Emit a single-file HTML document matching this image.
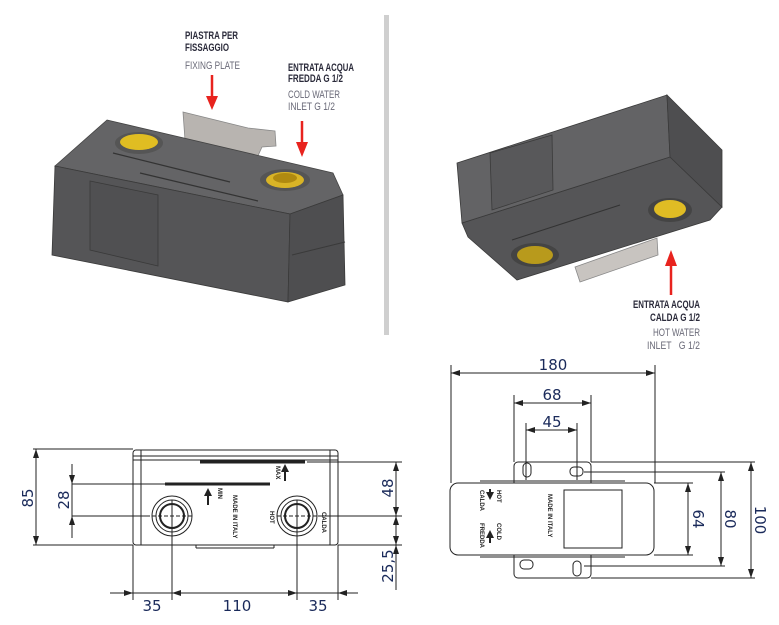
<!DOCTYPE html>
<html><head><meta charset="utf-8"><style>
html,body{margin:0;padding:0;background:#fff;}
svg{display:block;}
.lb{font-family:"Liberation Sans",sans-serif;font-size:11px;}
.dk{fill:#2a2a3a;font-weight:bold;}
.gr{fill:#6a6a78;}
.dim{font-family:"DejaVu Sans","Liberation Sans",sans-serif;font-size:15px;fill:#1a2a5a;}
</style></head><body>
<svg width="779" height="625" viewBox="0 0 779 625" xmlns="http://www.w3.org/2000/svg">
<rect width="779" height="625" fill="#fff"/>
<rect x="384" y="15" width="5" height="320" fill="#cfcfcf"/>

<!-- Left 3D box -->
<polygon points="183,112 248,128 275,131 276,146 262,147 256,160 185,140" fill="#b8b4b0" stroke="#888" stroke-width="0.8"/>
<polygon points="107,120 333,173 343,195 290,214 55,166" fill="#646466" stroke="#444" stroke-width="0.8"/>
<polygon points="55,166 290,214 288,302 52,255" fill="#555557" stroke="#3a3a3a" stroke-width="0.8"/>
<polygon points="290,214 343,195 345,285 288,302" fill="#4e4e50" stroke="#3a3a3a" stroke-width="0.8"/>
<line x1="292" y1="255" x2="345" y2="242" stroke="#3a3a3a"/>
<polygon points="90,181 158,195 158,266 90,250" fill="#505052" stroke="#3a3a3a" stroke-width="0.8"/>
<ellipse cx="139" cy="143" rx="24" ry="11" fill="#555"/>
<ellipse cx="139" cy="142" rx="19" ry="8" fill="#e0bd22"/>
<ellipse cx="285" cy="180" rx="25" ry="11" fill="#555"/>
<ellipse cx="285" cy="180" rx="19" ry="8" fill="#d9b426"/>
<ellipse cx="285" cy="178" rx="12" ry="5" fill="#b08a10"/>
<line x1="113" y1="153" x2="230" y2="182" stroke="#333" stroke-width="1.2"/>
<line x1="140" y1="173" x2="258" y2="201" stroke="#333" stroke-width="1.2"/>

<!-- Right 3D box -->
<polygon points="575,267 657,238 658,255 580,282" fill="#c8c4c0" stroke="#888" stroke-width="0.8"/>
<polygon points="462,223 670,157 722,207 710,220 517,280 468,237" fill="#555557" stroke="#3a3a3a" stroke-width="0.8"/>
<polygon points="457,163 667,95 670,157 462,223" fill="#636365" stroke="#3a3a3a" stroke-width="0.8"/>
<polygon points="667,95 722,150 722,207 670,157" fill="#4e4e50" stroke="#3a3a3a" stroke-width="0.8"/>
<polygon points="490,153 552,135 553,190 492,210" fill="#58585a" stroke="#3a3a3a" stroke-width="0.8"/>
<line x1="512" y1="240" x2="620" y2="205" stroke="#333"/>
<ellipse cx="535" cy="255" rx="24" ry="12" fill="#444"/>
<ellipse cx="535" cy="255" rx="18" ry="9" fill="#b89a1c"/>
<ellipse cx="670" cy="210" rx="22" ry="12" fill="#444"/>
<ellipse cx="670" cy="209" rx="16" ry="9" fill="#e0bc24"/>

<!-- Labels & arrows -->
<g class="lb">
<text x="185" y="39" class="dk" textLength="53" lengthAdjust="spacingAndGlyphs">PIASTRA PER</text>
<text x="185" y="51" class="dk" textLength="44" lengthAdjust="spacingAndGlyphs">FISSAGGIO</text>
<text x="185" y="69" class="gr" textLength="55" lengthAdjust="spacingAndGlyphs">FIXING PLATE</text>
<text x="288" y="71" class="dk" textLength="66" lengthAdjust="spacingAndGlyphs">ENTRATA ACQUA</text>
<text x="288" y="82" class="dk" textLength="55" lengthAdjust="spacingAndGlyphs">FREDDA G 1/2</text>
<text x="288" y="98" class="gr" textLength="52" lengthAdjust="spacingAndGlyphs">COLD WATER</text>
<text x="288" y="110" class="gr" textLength="47" lengthAdjust="spacingAndGlyphs">INLET G 1/2</text>
<text x="633" y="308" class="dk" textLength="67" lengthAdjust="spacingAndGlyphs">ENTRATA ACQUA</text>
<text x="650" y="321" class="dk" textLength="50" lengthAdjust="spacingAndGlyphs">CALDA G 1/2</text>
<text x="653" y="336" class="gr" textLength="47" lengthAdjust="spacingAndGlyphs">HOT WATER</text>
<text x="647" y="349" class="gr" textLength="53" lengthAdjust="spacingAndGlyphs">INLET&#160;&#160;&#160;G 1/2</text>
</g>
<g fill="#e8231e" stroke="#e8231e">
<line x1="212" y1="75" x2="212" y2="98" stroke-width="2.5"/><polygon points="206,96 218,96 212,110" stroke="none"/>
<line x1="302" y1="121" x2="302" y2="144" stroke-width="2.5"/><polygon points="296,142 308,142 302,157" stroke="none"/>
<line x1="671" y1="295" x2="671" y2="264" stroke-width="2.5"/><polygon points="665,266 677,266 671,250" stroke="none"/>
</g>

<!-- Left dimension drawing -->
<g stroke="#222" stroke-width="1" fill="none">
<rect x="133" y="450" width="205" height="95" rx="3"/>
<line x1="141" y1="450" x2="141" y2="545"/><line x1="330" y1="450" x2="330" y2="545"/>
<line x1="133" y1="456" x2="338" y2="456"/><line x1="133" y1="460" x2="338" y2="460"/>
<line x1="196" y1="545" x2="196" y2="548"/><line x1="274" y1="545" x2="274" y2="548"/><line x1="196" y1="548" x2="274" y2="548"/>
<circle cx="172" cy="516" r="20"/><circle cx="172" cy="516" r="16"/><circle cx="172" cy="516" r="12" stroke-width="2"/>
<circle cx="297" cy="516" r="20"/><circle cx="297" cy="516" r="16"/><circle cx="297" cy="516" r="12" stroke-width="2"/>
<line x1="200" y1="462" x2="305" y2="462" stroke-width="3"/>
<line x1="165" y1="484" x2="270" y2="484" stroke-width="3"/>
<line x1="33" y1="449" x2="133" y2="449"/><line x1="33" y1="545" x2="133" y2="545"/>
<line x1="36" y1="449" x2="36" y2="545"/>
<line x1="72" y1="464" x2="72" y2="538"/><line x1="72" y1="484" x2="165" y2="484"/><line x1="72" y1="516" x2="150" y2="516"/>
<line x1="307" y1="462" x2="402" y2="462"/><line x1="318" y1="516" x2="402" y2="516"/><line x1="338" y1="545" x2="402" y2="545"/>
<line x1="396" y1="462" x2="396" y2="590"/>
<line x1="133" y1="545" x2="133" y2="600"/><line x1="172" y1="500" x2="172" y2="600"/><line x1="297" y1="500" x2="297" y2="600"/><line x1="338" y1="545" x2="338" y2="600"/>
<line x1="110" y1="593" x2="358" y2="593"/>
<line x1="152" y1="516" x2="192" y2="516" stroke-dasharray="4,2"/><line x1="277" y1="516" x2="317" y2="516" stroke-dasharray="4,2"/>
</g>
<g fill="#222">
<polygon points="36,449 33,458 39,458"/><polygon points="36,545 33,536 39,536"/>
<polygon points="72,484 69,475 75,475"/><polygon points="72,516 69,525 75,525"/>
<polygon points="396,462 393,471 399,471"/><polygon points="396,516 393,507 399,507"/><polygon points="396,516 393,525 399,525"/><polygon points="396,545 393,536 399,536"/><polygon points="396,545 393,554 399,554"/>
<polygon points="133,593 124,590 124,596"/><polygon points="172,593 181,590 181,596"/><polygon points="297,593 288,590 288,596"/><polygon points="338,593 347,590 347,596"/>
<polygon points="208,488 204,496 212,496"/><rect x="207" y="495" width="2" height="10"/>
<polygon points="285,464 281,472 289,472"/><rect x="284" y="471" width="2" height="10"/>
</g>
<g font-family="Liberation Sans,sans-serif" font-size="6" font-weight="bold" fill="#222">
<text transform="translate(218,488) rotate(90)">MIN</text>
<text transform="translate(276,466) rotate(90)">MAX</text>
<text transform="translate(233,495) rotate(90)">MADE IN ITALY</text>
<text transform="translate(270,511) rotate(90)">HOT</text>
<text transform="translate(322,512) rotate(90)">CALDA</text>
</g>
<text class="dim" transform="translate(33,498) rotate(-90)" text-anchor="middle">85</text>
<text class="dim" transform="translate(69,500) rotate(-90)" text-anchor="middle">28</text>
<text class="dim" transform="translate(393,488) rotate(-90)" text-anchor="middle">48</text>
<text class="dim" transform="translate(393,566) rotate(-90)" text-anchor="middle">25,5</text>
<text class="dim" x="152" y="611" text-anchor="middle">35</text>
<text class="dim" x="237" y="611" text-anchor="middle">110</text>
<text class="dim" x="318" y="611" text-anchor="middle">35</text>

<!-- Right dimension drawing -->
<g stroke="#222" stroke-width="1" fill="none">
<rect x="514" y="462" width="77" height="116" rx="4"/>
<rect x="450" y="483" width="204" height="72" rx="8" fill="#fff"/>
<line x1="480" y1="481" x2="625" y2="481"/><line x1="480" y1="557" x2="625" y2="557"/>
<rect x="564" y="490" width="58" height="58"/>
<rect x="523" y="463" width="8" height="14" rx="4"/><rect x="570" y="467" width="13" height="9" rx="4"/>
<rect x="520" y="560" width="13" height="9" rx="4"/><rect x="573" y="561" width="8" height="15" rx="4"/>
<line x1="451" y1="365" x2="451" y2="483"/><line x1="655" y1="365" x2="655" y2="483"/>
<line x1="451" y1="373" x2="655" y2="373"/>
<line x1="514" y1="395" x2="514" y2="462"/><line x1="591" y1="395" x2="591" y2="462"/>
<line x1="514" y1="403" x2="591" y2="403"/>
<line x1="526" y1="423" x2="526" y2="480"/><line x1="577" y1="423" x2="577" y2="480"/>
<line x1="526" y1="430" x2="577" y2="430"/>
<line x1="591" y1="462" x2="755" y2="462"/><line x1="584" y1="472" x2="725" y2="472"/><line x1="654" y1="483" x2="693" y2="483"/>
<line x1="654" y1="555" x2="693" y2="555"/><line x1="584" y1="566" x2="725" y2="566"/><line x1="591" y1="578" x2="755" y2="578"/>
<line x1="688" y1="483" x2="688" y2="555"/><line x1="721" y1="472" x2="721" y2="566"/><line x1="751" y1="462" x2="751" y2="578"/>
</g>
<g fill="#222">
<polygon points="451,373 460,370 460,376"/><polygon points="655,373 646,370 646,376"/>
<polygon points="514,403 523,400 523,406"/><polygon points="591,403 582,400 582,406"/>
<polygon points="526,430 535,427 535,433"/><polygon points="577,430 568,427 568,433"/>
<polygon points="688,483 685,492 691,492"/><polygon points="688,555 685,546 691,546"/>
<polygon points="721,472 718,481 724,481"/><polygon points="721,566 718,557 724,557"/>
<polygon points="751,462 748,471 754,471"/><polygon points="751,578 748,569 754,569"/>
<polygon points="490,500 486,492 494,492"/><rect x="489" y="489" width="2" height="8"/>
<polygon points="490,530 486,538 494,538"/><rect x="489" y="535" width="2" height="8"/>
</g>
<g font-family="Liberation Sans,sans-serif" font-size="6" font-weight="bold" fill="#222">
<text transform="translate(497,490) rotate(90)">HOT</text>
<text transform="translate(480,490) rotate(90)">CALDA</text>
<text transform="translate(497,523) rotate(90)">COLD</text>
<text transform="translate(480,523) rotate(90)">FREDDA</text>
<text transform="translate(548,494) rotate(90)">MADE IN ITALY</text>
</g>
<text class="dim" x="553" y="370" text-anchor="middle">180</text>
<text class="dim" x="552" y="400" text-anchor="middle">68</text>
<text class="dim" x="552" y="427" text-anchor="middle">45</text>
<text class="dim" transform="translate(693,519) rotate(90)" text-anchor="middle">64</text>
<text class="dim" transform="translate(725,519) rotate(90)" text-anchor="middle">80</text>
<text class="dim" transform="translate(755,520) rotate(90)" text-anchor="middle">100</text>
</svg>
</body></html>
